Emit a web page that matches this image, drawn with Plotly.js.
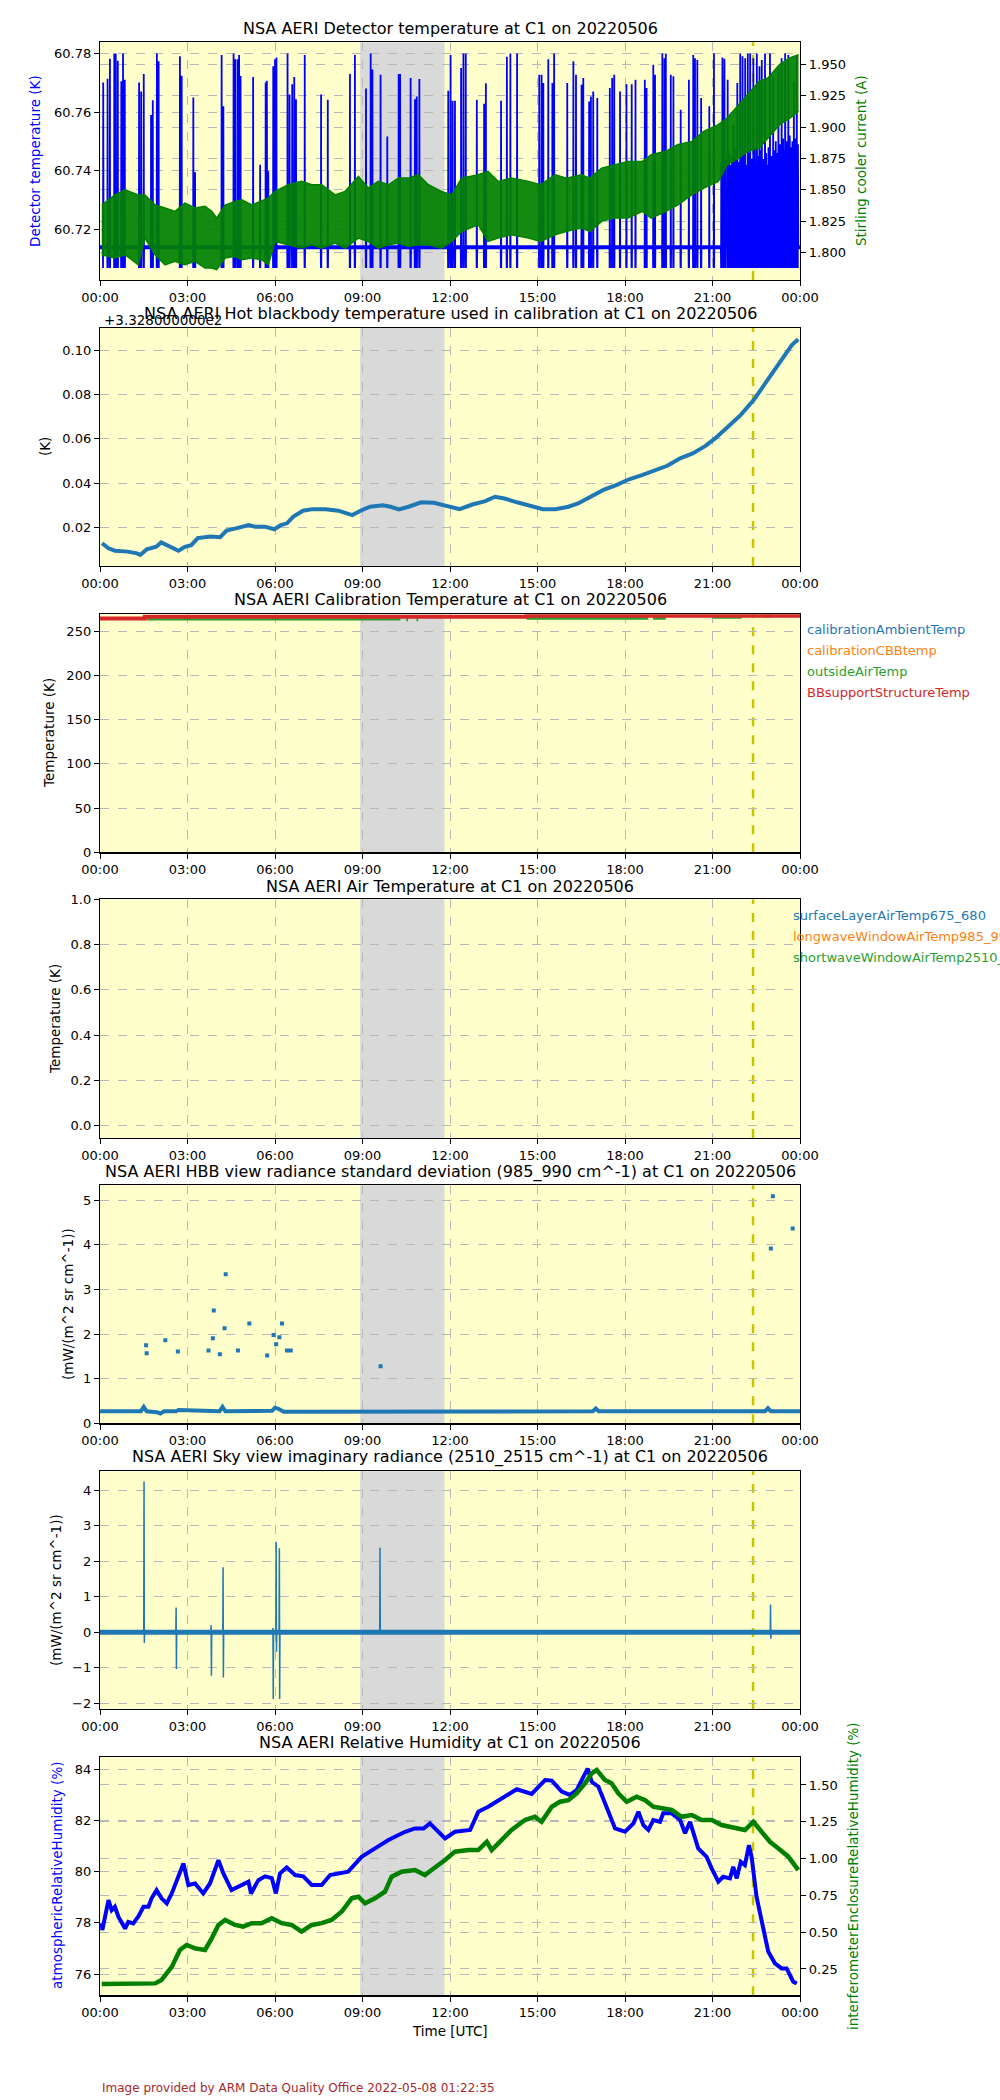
<!DOCTYPE html>
<html><head><meta charset="utf-8">
<script src="https://cdn.plot.ly/plotly-3.0.1.min.js"></script>
<style>body{margin:0;background:#fff}</style>
</head><body><div id="chart" style="width:1000px;height:2100px"></div>
<script>
// ---------- tick labels ----------
const hourTicks = [0,3,6,9,12,15,18,21,24];
const hourTickText = ['00:00','03:00','06:00','09:00','12:00','15:00','18:00','21:00','00:00'];

// ---------- panel 1: detector temperature (spikes) ----------
const detBase = 60.7139;
const detDip = 60.7068;
const detBaseT = [0, 24];
const spikeT = [0.11,0.26,0.34,0.49,0.54,0.61,0.73,0.79,0.85,1.34,1.41,1.50,1.75,1.81,1.95,2.01,2.74,2.80,3.20,3.26,4.17,4.23,4.58,4.64,4.72,4.77,4.82,5.25,5.49,5.68,5.72,5.77,5.94,6.00,6.05,6.43,6.50,6.59,6.66,6.72,7.02,7.58,7.81,8.57,8.74,9.12,9.28,9.34,9.62,9.85,10.24,10.29,10.65,10.80,10.86,10.95,
  11.94,12.02,12.09,12.17,12.38,12.46,12.54,12.92,13.17,13.23,13.75,13.95,14.07,14.30,15.06,15.14,15.20,15.37,15.51,15.57,16.02,16.23,16.32,16.51,16.57,16.77,16.83,16.91,17.05,17.48,17.56,17.63,17.83,18.05,18.23,18.36,18.68,18.74,18.97,19.03,19.28,19.35,19.40,19.57,19.66,19.91,20.19,20.34,20.40,20.48,20.61,20.89,21.05,21.34,21.41,21.52,21.72,21.85,21.95,22.03,22.12,22.21,22.29,22.40,22.52,22.61,22.69,22.80,22.97,23.08,23.26,23.37,23.49,23.60,23.79,23.89];
const spikeTop = [60.7701,60.7714,60.7782,60.78,60.78,60.7775,60.7705,60.78,60.771,60.7701,60.767,60.773,60.759,60.764,60.78,60.7773,60.779,60.7724,60.765,60.7395,60.7795,60.762,60.78,60.778,60.778,60.7795,60.7723,60.772,60.742,60.7701,60.7707,60.7398,60.7756,60.778,60.7786,60.78,60.766,60.7695,60.772,60.7644,60.7795,60.766,60.7642,60.773,60.7795,60.768,60.78,60.7745,60.7727,60.7517,60.773,60.773,60.7716,60.7644,60.7653,60.7713,
  60.7673,60.7795,60.7639,60.7639,60.775,60.78,60.78,60.7642,60.7628,60.7698,60.7639,60.7789,60.78,60.78,60.7727,60.7727,60.7699,60.778,60.7699,60.78,60.7699,60.7773,60.7727,60.7693,60.7716,60.7636,60.7653,60.767,60.7648,60.7682,60.7716,60.7727,60.767,60.7695,60.7695,60.771,60.771,60.7682,60.7761,60.7727,60.78,60.7784,60.7798,60.7727,60.7722,60.7608,60.771,60.7795,60.7784,60.7778,60.7648,60.762,60.78,60.7786,60.7782,60.771,60.7557,60.7699,60.78,60.779,60.7784,60.78,60.78,60.7784,60.78,60.7756,60.7778,60.78,60.78,60.7722,60.775,60.7784,60.78,60.7795,60.7705,60.7793];
// dense lower oscillations late in the day
const denseT = [21.30,21.36,21.45,21.57,21.62,21.67,21.78,21.81,21.90,21.99,22.07,22.16,22.25,22.34,22.45,22.48,22.56,22.65,22.74,22.84,22.88,22.92,23.02,23.12,23.17,23.21,23.31,23.42,23.45,23.54,23.65,23.70,23.74,23.84,23.93];
const denseTop = [60.743,60.740,60.744,60.746,60.742,60.745,60.744,60.748,60.743,60.745,60.747,60.742,60.746,60.744,60.748,60.743,60.745,60.747,60.744,60.746,60.742,60.748,60.745,60.747,60.750,60.746,60.749,60.751,60.747,60.750,60.752,60.748,60.750,60.751,60.749];

// Stirling cooler current noise envelope
const curT  = [0.06,0.51,0.86,1.31,1.54,1.89,2.23,2.57,2.91,3.26,3.60,3.83,4.00,4.29,4.63,4.86,5.20,5.54,5.77,6.00,6.46,6.91,7.26,7.60,8.06,8.40,8.86,9.20,9.54,9.89,10.23,10.57,10.91,11.26,11.71,12.06,12.40,12.97,13.30,13.65,14.10,14.70,15.10,15.60,16.00,16.50,16.80,17.20,17.60,18.10,18.60,18.90,19.40,19.80,20.30,20.70,21.20,21.50,21.90,22.20,22.60,22.90,23.30,23.65,23.95];
const curHi = [1.838,1.846,1.850,1.846,1.846,1.838,1.8356,1.8329,1.8395,1.8356,1.8369,1.8329,1.8276,1.838,1.8409,1.8422,1.838,1.8409,1.8435,1.8488,1.8541,1.8568,1.8541,1.8541,1.846,1.8488,1.8608,1.8515,1.8568,1.8541,1.8594,1.8594,1.8621,1.8541,1.8488,1.846,1.8594,1.8621,1.8648,1.8568,1.8594,1.8568,1.8541,1.8621,1.8594,1.8621,1.8594,1.8674,1.870,1.8727,1.8727,1.878,1.8807,1.886,1.8886,1.8966,1.9019,1.9072,1.9178,1.9258,1.9364,1.9391,1.9497,1.955,1.9576];
const curLo = [1.7984,1.7958,1.7984,1.7904,1.8117,1.7984,1.7904,1.7931,1.7904,1.7931,1.7878,1.7878,1.7865,1.7958,1.7971,1.7944,1.7958,1.7944,1.7904,1.809,1.8064,1.8037,1.8064,1.8037,1.8077,1.8037,1.8117,1.809,1.8037,1.8064,1.8077,1.805,1.8064,1.8064,1.8037,1.809,1.817,1.8223,1.809,1.8117,1.8143,1.8117,1.809,1.8143,1.817,1.8196,1.817,1.825,1.8276,1.8276,1.8329,1.8276,1.8329,1.838,1.8462,1.8515,1.8568,1.870,1.8754,1.8807,1.8833,1.8913,1.9019,1.9072,1.9125];

// ---------- panel 2: hot blackbody temperature (offset from 332.8) ----------
const hbbT = [0.07,0.29,0.51,0.95,1.27,1.38,1.60,1.93,2.10,2.36,2.69,2.91,3.13,3.35,3.79,4.12,4.34,4.66,5.10,5.32,5.65,5.98,6.20,6.41,6.63,6.96,7.29,7.73,8.17,8.65,8.93,9.26,9.70,9.96,10.25,10.58,11.01,11.45,11.89,12.33,12.77,13.21,13.54,13.87,14.30,14.74,15.18,15.62,16.06,16.39,16.82,17.26,17.70,18.14,18.58,19.01,19.45,19.89,20.32,20.76,21.09,21.53,21.97,22.41,22.84,23.28,23.72,23.94];
const hbbV = [0.0128,0.0105,0.0094,0.0090,0.0082,0.0075,0.0100,0.0112,0.0132,0.0116,0.0094,0.0112,0.0119,0.0151,0.0158,0.0155,0.0185,0.0195,0.0210,0.0203,0.0203,0.0191,0.0210,0.0218,0.0248,0.0275,0.0282,0.0282,0.0275,0.0255,0.0275,0.0293,0.0300,0.0293,0.0281,0.0293,0.0313,0.0311,0.0296,0.0282,0.0303,0.0318,0.0338,0.0330,0.0313,0.0296,0.0282,0.0282,0.0293,0.0308,0.0338,0.0369,0.0391,0.0417,0.0436,0.0459,0.0478,0.0512,0.0534,0.0568,0.0602,0.0655,0.0708,0.0775,0.0859,0.0942,0.1024,0.1050];

// ---------- panel 3: calibration temperatures ----------
const bbSupT = [0,1.54,1.54,14.63,14.63,24];
const bbSupV = [264.4,264.4,266.3,266.3,267.7,267.7];
const outAirT = [1.62,10.30,null,10.50,10.56,null,10.85,10.91,null,14.63,18.80,null,18.96,19.40,null,21.00,22.00,null,22.70,23.10];
const outAirV = [263.9,263.9,null,263.0,263.0,null,263.0,263.0,null,264.8,264.8,null,264.8,264.8,null,266.0,266.0,null,267.2,267.2];
const calNames = ['calibrationAmbientTemp','calibrationCBBtemp','outsideAirTemp','BBsupportStructureTemp'];
const airNames = ['surfaceLayerAirTemp675_680','longwaveWindowAirTemp985_990','shortwaveWindowAirTemp2510_2515'];

// ---------- panel 5: HBB radiance std ----------
const hbbBaseT = [0,1.40,1.50,1.60,1.95,2.07,2.20,2.60,2.70,4.10,4.20,4.30,5.90,6.00,6.10,6.30,16.9,17.0,17.1,22.8,22.9,23.0,24];
const hbbBaseV = [0.27,0.27,0.37,0.27,0.25,0.22,0.27,0.27,0.30,0.27,0.37,0.27,0.28,0.35,0.33,0.26,0.27,0.33,0.27,0.27,0.34,0.27,0.27];
const hbbOutT = [1.58,1.60,2.24,2.67,3.72,3.87,3.90,4.11,4.27,4.31,4.73,5.12,5.73,5.95,6.04,6.15,6.24,6.41,6.54,9.62,23.00,23.07,23.75];
const hbbOutV = [1.75,1.57,1.86,1.61,1.63,1.905,2.53,1.55,2.13,3.34,1.63,2.24,1.52,1.98,1.77,1.93,2.24,1.63,1.63,1.28,3.92,5.09,4.37];

// ---------- panel 6: sky imaginary radiance ----------
const skyT = [0,1.50,1.51,1.52,1.53,2.60,2.61,2.62,2.63,3.80,3.81,3.82,3.83,4.21,4.22,4.23,4.24,5.92,5.93,5.94,5.95,6.03,6.04,6.05,6.06,6.14,6.15,6.16,6.17,9.59,9.60,9.61,22.98,22.99,23.00,23.01,24];
const skyV = [0,0,4.25,-0.30,0,0,0.70,-1.03,0,0,0.20,-1.22,0,0,1.83,-1.27,0,0,0.12,-1.88,0,0,2.55,-0.55,0,0,2.37,-1.88,0,0,2.38,0,0,0.78,-0.18,0,0];
const skyBandT = [0,24];
const skyBandV = [0,0];

// ---------- panel 7: relative humidity ----------
const rhT = [0.06,0.08,0.29,0.40,0.51,0.63,0.86,0.97,1.14,1.31,1.49,1.66,1.77,1.94,2.11,2.29,2.46,2.63,2.86,3.03,3.26,3.54,3.77,4.06,4.23,4.51,4.74,5.09,5.18,5.43,5.66,5.89,6.03,6.17,6.40,6.69,6.97,7.26,7.60,7.89,8.51,8.97,9.43,9.89,10.46,10.80,11.09,11.31,11.83,12.17,12.69,12.97,13.31,13.88,14.29,14.80,15.26,15.49,15.83,16.11,16.34,16.72,16.86,17.09,17.43,17.66,18.00,18.29,18.46,18.63,18.80,18.97,19.20,19.31,19.60,19.89,20.06,20.23,20.51,20.80,20.97,21.20,21.37,21.60,21.71,21.83,21.97,22.11,22.25,22.34,22.51,22.69,22.91,23.14,23.37,23.54,23.66,23.77,23.89];
const rhV = [77.98,77.72,78.89,78.50,78.63,78.24,77.78,78.04,77.98,78.24,78.63,78.63,78.96,79.28,78.96,78.76,79.15,79.67,80.32,79.48,79.54,79.15,79.54,80.45,79.93,79.28,79.41,79.61,79.15,79.67,79.82,79.75,79.15,79.93,80.17,79.87,79.82,79.48,79.48,79.87,80.00,80.58,80.91,81.24,81.56,81.69,81.69,81.89,81.30,81.56,81.63,82.34,82.54,82.93,83.22,83.04,83.58,83.56,83.13,83.00,83.19,84.03,83.51,83.32,82.34,81.69,81.56,81.89,82.34,81.82,81.63,82.02,81.95,82.28,82.28,82.02,81.50,81.95,80.91,80.58,80.13,79.61,79.80,79.74,80.19,79.74,80.39,80.26,81.04,80.58,79.02,78.11,76.88,76.42,76.22,76.22,75.90,75.70,75.63];
const encT = [0.06,1.89,2.11,2.46,2.74,2.97,3.26,3.60,3.83,4.06,4.29,4.63,4.91,5.20,5.54,5.89,6.23,6.57,6.91,7.26,7.60,7.94,8.29,8.63,8.86,9.09,9.43,9.77,10.00,10.34,10.80,11.14,11.37,11.71,11.83,12.17,12.63,12.97,13.26,13.43,13.77,14.11,14.57,14.91,15.14,15.49,15.77,16.06,16.34,16.63,16.86,17.03,17.31,17.54,17.77,18.06,18.40,18.69,18.97,19.26,19.60,19.94,20.29,20.63,20.97,21.31,21.77,22.11,22.40,22.69,22.97,23.26,23.60,23.94];
const encV = [0.148,0.152,0.175,0.264,0.379,0.413,0.390,0.379,0.458,0.549,0.583,0.549,0.538,0.561,0.561,0.594,0.561,0.549,0.504,0.549,0.561,0.583,0.640,0.730,0.741,0.696,0.730,0.775,0.877,0.911,0.922,0.888,0.922,0.968,0.990,1.047,1.058,1.058,1.114,1.058,1.126,1.194,1.262,1.284,1.250,1.352,1.386,1.397,1.443,1.511,1.579,1.602,1.534,1.511,1.443,1.386,1.420,1.397,1.352,1.341,1.330,1.284,1.296,1.262,1.262,1.228,1.205,1.194,1.250,1.183,1.114,1.069,1.013,0.922];

// gray (bad-data) band and yellow reference line
const grayBand = [8.92, 11.81];
const refLineT = 22.39;

// ---------- layout geometry ----------
const W = 1000, H = 2100;
const FONT = 'DejaVu Sans';
const panelPx = [[42.3,280],[328,566],[614.3,852.3],[899.3,1138],[1185.3,1423.3],[1471.3,1709],[1757.3,1995.3]];
const dom = p => [(H - p[1]) / H, (H - p[0]) / H];
const px = x => x / W;
const py = y => 1 - y / H;

// build spike series
const allSp = spikeT.map((t,i)=>[t,spikeTop[i]]).concat(denseT.map((t,i)=>[t,denseTop[i]])).sort((a,b)=>a[0]-b[0]);
const detX = [0], detY = [detBase];
allSp.forEach(([t,v]) => { detX.push(t-0.012,t-0.006,t,t+0.006,t+0.012); detY.push(detBase,detDip,v,detDip,detBase); });
detX.push(24); detY.push(detBase);

const traces = [];
traces.push({x:detX, y:detY, xaxis:'x', yaxis:'y', mode:'lines', line:{color:'#0000ff', width:1.8}, hoverinfo:'skip'});
traces.push({x:detBaseT, y:[detBase,detBase], xaxis:'x', yaxis:'y', mode:'lines', line:{color:'#0000ff', width:4}});
traces.push({x:curT, y:curLo, xaxis:'x', yaxis:'y8', mode:'lines', line:{color:'#008000', width:1.5}});
traces.push({x:curT, y:curHi, xaxis:'x', yaxis:'y8', mode:'lines', line:{color:'#008000', width:1.5}, fill:'tonexty', fillcolor:'rgba(0,128,0,0.92)'});

traces.push({x:hbbT, y:hbbV, xaxis:'x2', yaxis:'y2', mode:'lines', line:{color:'#1f77b4', width:4}});

traces.push({x:outAirT, y:outAirV, xaxis:'x3', yaxis:'y3', mode:'lines', line:{color:'#2ca02c', width:3}, connectgaps:false});
traces.push({x:bbSupT, y:bbSupV, xaxis:'x3', yaxis:'y3', mode:'lines', line:{color:'#d62728', width:4, shape:'linear'}});

traces.push({x:hbbBaseT, y:hbbBaseV, xaxis:'x5', yaxis:'y5', mode:'lines', line:{color:'#1f77b4', width:4}});
traces.push({x:hbbOutT, y:hbbOutV, xaxis:'x5', yaxis:'y5', mode:'markers', marker:{color:'#1f77b4', size:4, symbol:'square'}});

traces.push({x:skyBandT, y:skyBandV, xaxis:'x6', yaxis:'y6', mode:'lines', line:{color:'#1f77b4', width:5}});
traces.push({x:skyT, y:skyV, xaxis:'x6', yaxis:'y6', mode:'lines', line:{color:'#1f77b4', width:1.5}});

traces.push({x:rhT, y:rhV, xaxis:'x7', yaxis:'y7', mode:'lines', line:{color:'#0000ff', width:4}});
traces.push({x:encT, y:encV, xaxis:'x7', yaxis:'y9', mode:'lines', line:{color:'#008000', width:4.5}});

const layout = {
  width: W, height: H, margin:{l:0,r:0,t:0,b:0},
  paper_bgcolor:'#ffffff', plot_bgcolor:'#ffffcc', showlegend:false,
  font:{family:FONT, size:13, color:'#000'},
  shapes:[], annotations:[]
};
const gridStyle = {showgrid:true, gridcolor:'#b8b8b8', griddash:'dash', gridwidth:1};
const lineStyle = {showline:true, linecolor:'#000', linewidth:1.2, ticks:'outside', ticklen:5, tickcolor:'#000', zeroline:false, tickfont:{family:FONT,size:13,color:'#000'}};
const yDefs = [
  {range:[60.7027,60.7838], tickvals:[60.72,60.74,60.76,60.78], tickformat:'.2f'},
  {range:[0.0025,0.1101], tickvals:[0.02,0.04,0.06,0.08,0.10], tickformat:'.2f'},
  {range:[0,269.2], tickvals:[0,50,100,150,200,250]},
  {range:[-0.054,1.0], tickvals:[0,0.2,0.4,0.6,0.8,1.0], tickformat:'.1f'},
  {range:[0,5.336], tickvals:[0,1,2,3,4,5]},
  {range:[-2.16,4.535], tickvals:[-2,-1,0,1,2,3,4]},
  {range:[75.17,84.47], tickvals:[76,78,80,82,84]}
];
for (let i=0;i<7;i++){
  const n = i===0 ? '' : String(i+1);
  layout['xaxis'+n] = Object.assign({domain:[0.1,0.8], anchor:'y'+n, range:[0,24], tickvals:hourTicks, ticktext:hourTickText, mirror:true}, gridStyle, lineStyle);
  layout['yaxis'+n] = Object.assign({domain:dom(panelPx[i]), anchor:'x'+n, mirror:true}, yDefs[i], gridStyle, lineStyle);
  layout.shapes.push({type:'rect', xref:'x'+n, yref:'y'+n+' domain', x0:grayBand[0], x1:grayBand[1], y0:0, y1:1, fillcolor:'#d9d9d9', line:{width:0}, layer:'below'});
  layout.shapes.push({type:'line', xref:'x'+n, yref:'y'+n+' domain', x0:refLineT, x1:refLineT, y0:0, y1:1, line:{color:'#c8c400', width:2.5, dash:'dash'}, layer:'below'});
}
layout.yaxis8 = Object.assign({overlaying:'y', side:'right', anchor:'x', range:[1.7783,1.9675], tickvals:[1.8,1.825,1.85,1.875,1.9,1.925,1.95], tickformat:'.3f'}, gridStyle, lineStyle);
layout.yaxis9 = Object.assign({overlaying:'y7', side:'right', anchor:'x7', range:[0.071,1.688], tickvals:[0.25,0.5,0.75,1.0,1.25,1.5], tickformat:'.2f'}, gridStyle, lineStyle);

function ann(text, x, y, opts){ layout.annotations.push(Object.assign({text:text, xref:'paper', yref:'paper', x:px(x), y:py(y), showarrow:false, xanchor:'center', yanchor:'middle', font:{family:FONT, size:13, color:'#000'}}, opts||{})); }
const titles = ['NSA AERI Detector temperature at C1 on 20220506','NSA AERI Hot blackbody temperature used in calibration at C1 on 20220506','NSA AERI Calibration Temperature at C1 on 20220506','NSA AERI Air Temperature at C1 on 20220506','NSA AERI HBB view radiance standard deviation (985_990 cm^-1) at C1 on 20220506','NSA AERI Sky view imaginary radiance (2510_2515 cm^-1) at C1 on 20220506','NSA AERI Relative Humidity at C1 on 20220506'];
const titleY = [28.3,313.3,599.3,886,1172,1457.3,1742.7];
titles.forEach((t,i)=>ann(t, 450, titleY[i], {font:{family:FONT,size:16,color:'#000'}}));
ann('+3.328000000e2', 102, 320, {xanchor:'left', font:{family:FONT,size:13.5,color:'#000'}});

ann('Detector temperature (K)', 35, 161, {textangle:-90, font:{family:FONT,size:13.5,color:'#0000ff'}});
ann('Stirling cooler current (A)', 861, 161, {textangle:-90, font:{family:FONT,size:13.5,color:'#008000'}});
ann('(K)', 45, 447, {textangle:-90, font:{family:FONT,size:13.5,color:'#000'}});
ann('Temperature (K)', 49, 733, {textangle:-90, font:{family:FONT,size:13.5,color:'#000'}});
ann('Temperature (K)', 55, 1019, {textangle:-90, font:{family:FONT,size:13.5,color:'#000'}});
ann('(mW/(m^2 sr cm^-1))', 68, 1304, {textangle:-90, font:{family:FONT,size:13.5,color:'#000'}});
ann('(mW/(m^2 sr cm^-1))', 56, 1590, {textangle:-90, font:{family:FONT,size:13.5,color:'#000'}});
ann('atmosphericRelativeHumidity (%)', 57, 1876, {textangle:-90, font:{family:FONT,size:13.5,color:'#0000ff'}});
ann('interferometerEnclosureRelativeHumidity (%)', 853, 1876, {textangle:-90, font:{family:FONT,size:13.5,color:'#008000'}});
ann('Time [UTC]', 450, 2031, {font:{family:FONT,size:13.5,color:'#000'}});

const calColors = ['#1f77b4','#ff7f0e','#2ca02c','#d62728'];
calNames.forEach((t,i)=>ann(t, 805, 629 + i*21, {xanchor:'left', font:{family:FONT,size:13,color:calColors[i]}}));
airNames.forEach((t,i)=>ann(t, 791, 915 + i*21, {xanchor:'left', font:{family:FONT,size:13,color:calColors[i]}}));

ann('Image provided by ARM Data Quality Office 2022-05-08 01:22:35', 100, 2088, {xanchor:'left', font:{family:FONT,size:12,color:'#a52a2a'}});

Plotly.newPlot('chart', traces, layout, {staticPlot:true, displayModeBar:false});
</script></body></html>
